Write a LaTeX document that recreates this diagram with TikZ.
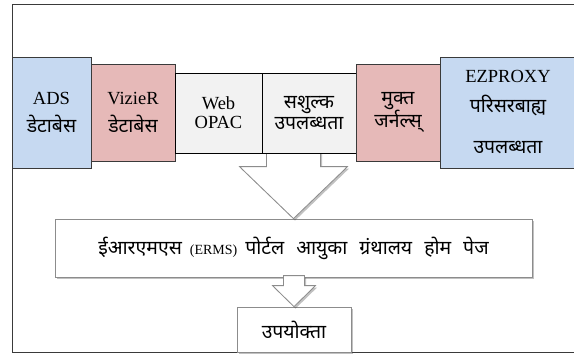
\documentclass[tikz,border=0pt]{standalone}
\usepackage{fontspec}
\setmainfont{Liberation Serif}
\newfontfamily\deva[Script=Devanagari,Scale=1.05]{Noto Sans}
\usetikzlibrary{shadows}
\definecolor{boxblue}{HTML}{C6D9F1}
\definecolor{boxpink}{HTML}{E6B9B8}
\definecolor{boxgray}{HTML}{F2F2F2}
\definecolor{framegray}{HTML}{3A3A3A}
\definecolor{arrowgray}{HTML}{8C8C8C}

\begin{document}
\begin{tikzpicture}[x=1pt, y=-1pt,
    rowbox/.style={draw=framegray, line width=0.9pt, inner sep=0pt, align=center, font=\fontsize{18.5}{22}\selectfont},
    bluebox/.style={rowbox, fill=boxblue, minimum width=79pt, minimum height=111pt},
    pinkbox/.style={rowbox, fill=boxpink, minimum width=84pt, minimum height=97pt},
    graybox/.style={rowbox, draw=black, fill=boxgray, minimum width=87pt, minimum height=80pt},
    softshadow/.style={drop shadow={shadow xshift=1.5pt, shadow yshift=-2pt, opacity=0.35, fill=black!70}},
    whitebox/.style={draw=arrowgray, line width=0.8pt, fill=white, inner sep=0pt, softshadow},
    blockarrow/.style={draw=arrowgray, line width=0.8pt, fill=white, line join=miter, softshadow}
  ]
  \useasboundingbox (0,0) rectangle (574,356);

  % outer frame
  \draw[framegray, line width=1pt] (574,4) -- (12,4) -- (12,352) -- (574,352);

  % portal and user
  \node[whitebox, minimum width=477pt, minimum height=58pt, font=\fontsize{18.5}{22}\selectfont] (erms) at (293.5,248)
    {{\deva ईआरएमएस}\hspace{8pt}{\fontsize{14}{16}\selectfont (ERMS)}\hspace{8pt}{\deva पोर्टल\hspace{12pt}आयुका\hspace{12pt}ग्रंथालय\hspace{12pt}होम\hspace{12pt}पेज}};
  \node[whitebox, minimum width=114pt, minimum height=45pt, font=\fontsize{18.5}{22}\selectfont] (user) at (294,329.5) {\deva उपयोक्ता};

  % block arrows
  \draw[blockarrow] (erms.north) -- ++(54,-52) -- ++(-27,0) -- ++(0,-15) -- ++(-54,0) -- ++(0,15) -- ++(-27,0) -- cycle;
  \draw[blockarrow] (user.north) -- ++(21.5,-21) -- ++(-11,0) -- ++(0,-10) -- ++(-21,0) -- ++(0,10) -- ++(-11,0) -- cycle;

  % sources
  \node[bluebox] (ads) at (51.5,112.5) {ADS\\[6pt]{\deva डेटाबेस}};
  \node[pinkbox] (vizier) at (133,112.5) {VizieR\\[6pt]{\deva डेटाबेस}};
  \node[graybox] (web) at (218.5,113) {Web\\[-3pt]OPAC};
  \node[graybox, minimum width=94pt] (sashulk) at (309,113) {{\deva सशुल्क}\\[-1pt]{\deva उपलब्धता}};
  \node[pinkbox] (mukt) at (398,112.5) {{\deva मुक्त}\\[-1pt]{\deva जर्नल्स्}};
  \node[bluebox, minimum width=136pt] (ezproxy) at (508,112.5) {EZPROXY\\[8pt]{\deva परिसरबाह्य}\\[19pt]{\deva उपलब्धता}};
\end{tikzpicture}
\end{document}
